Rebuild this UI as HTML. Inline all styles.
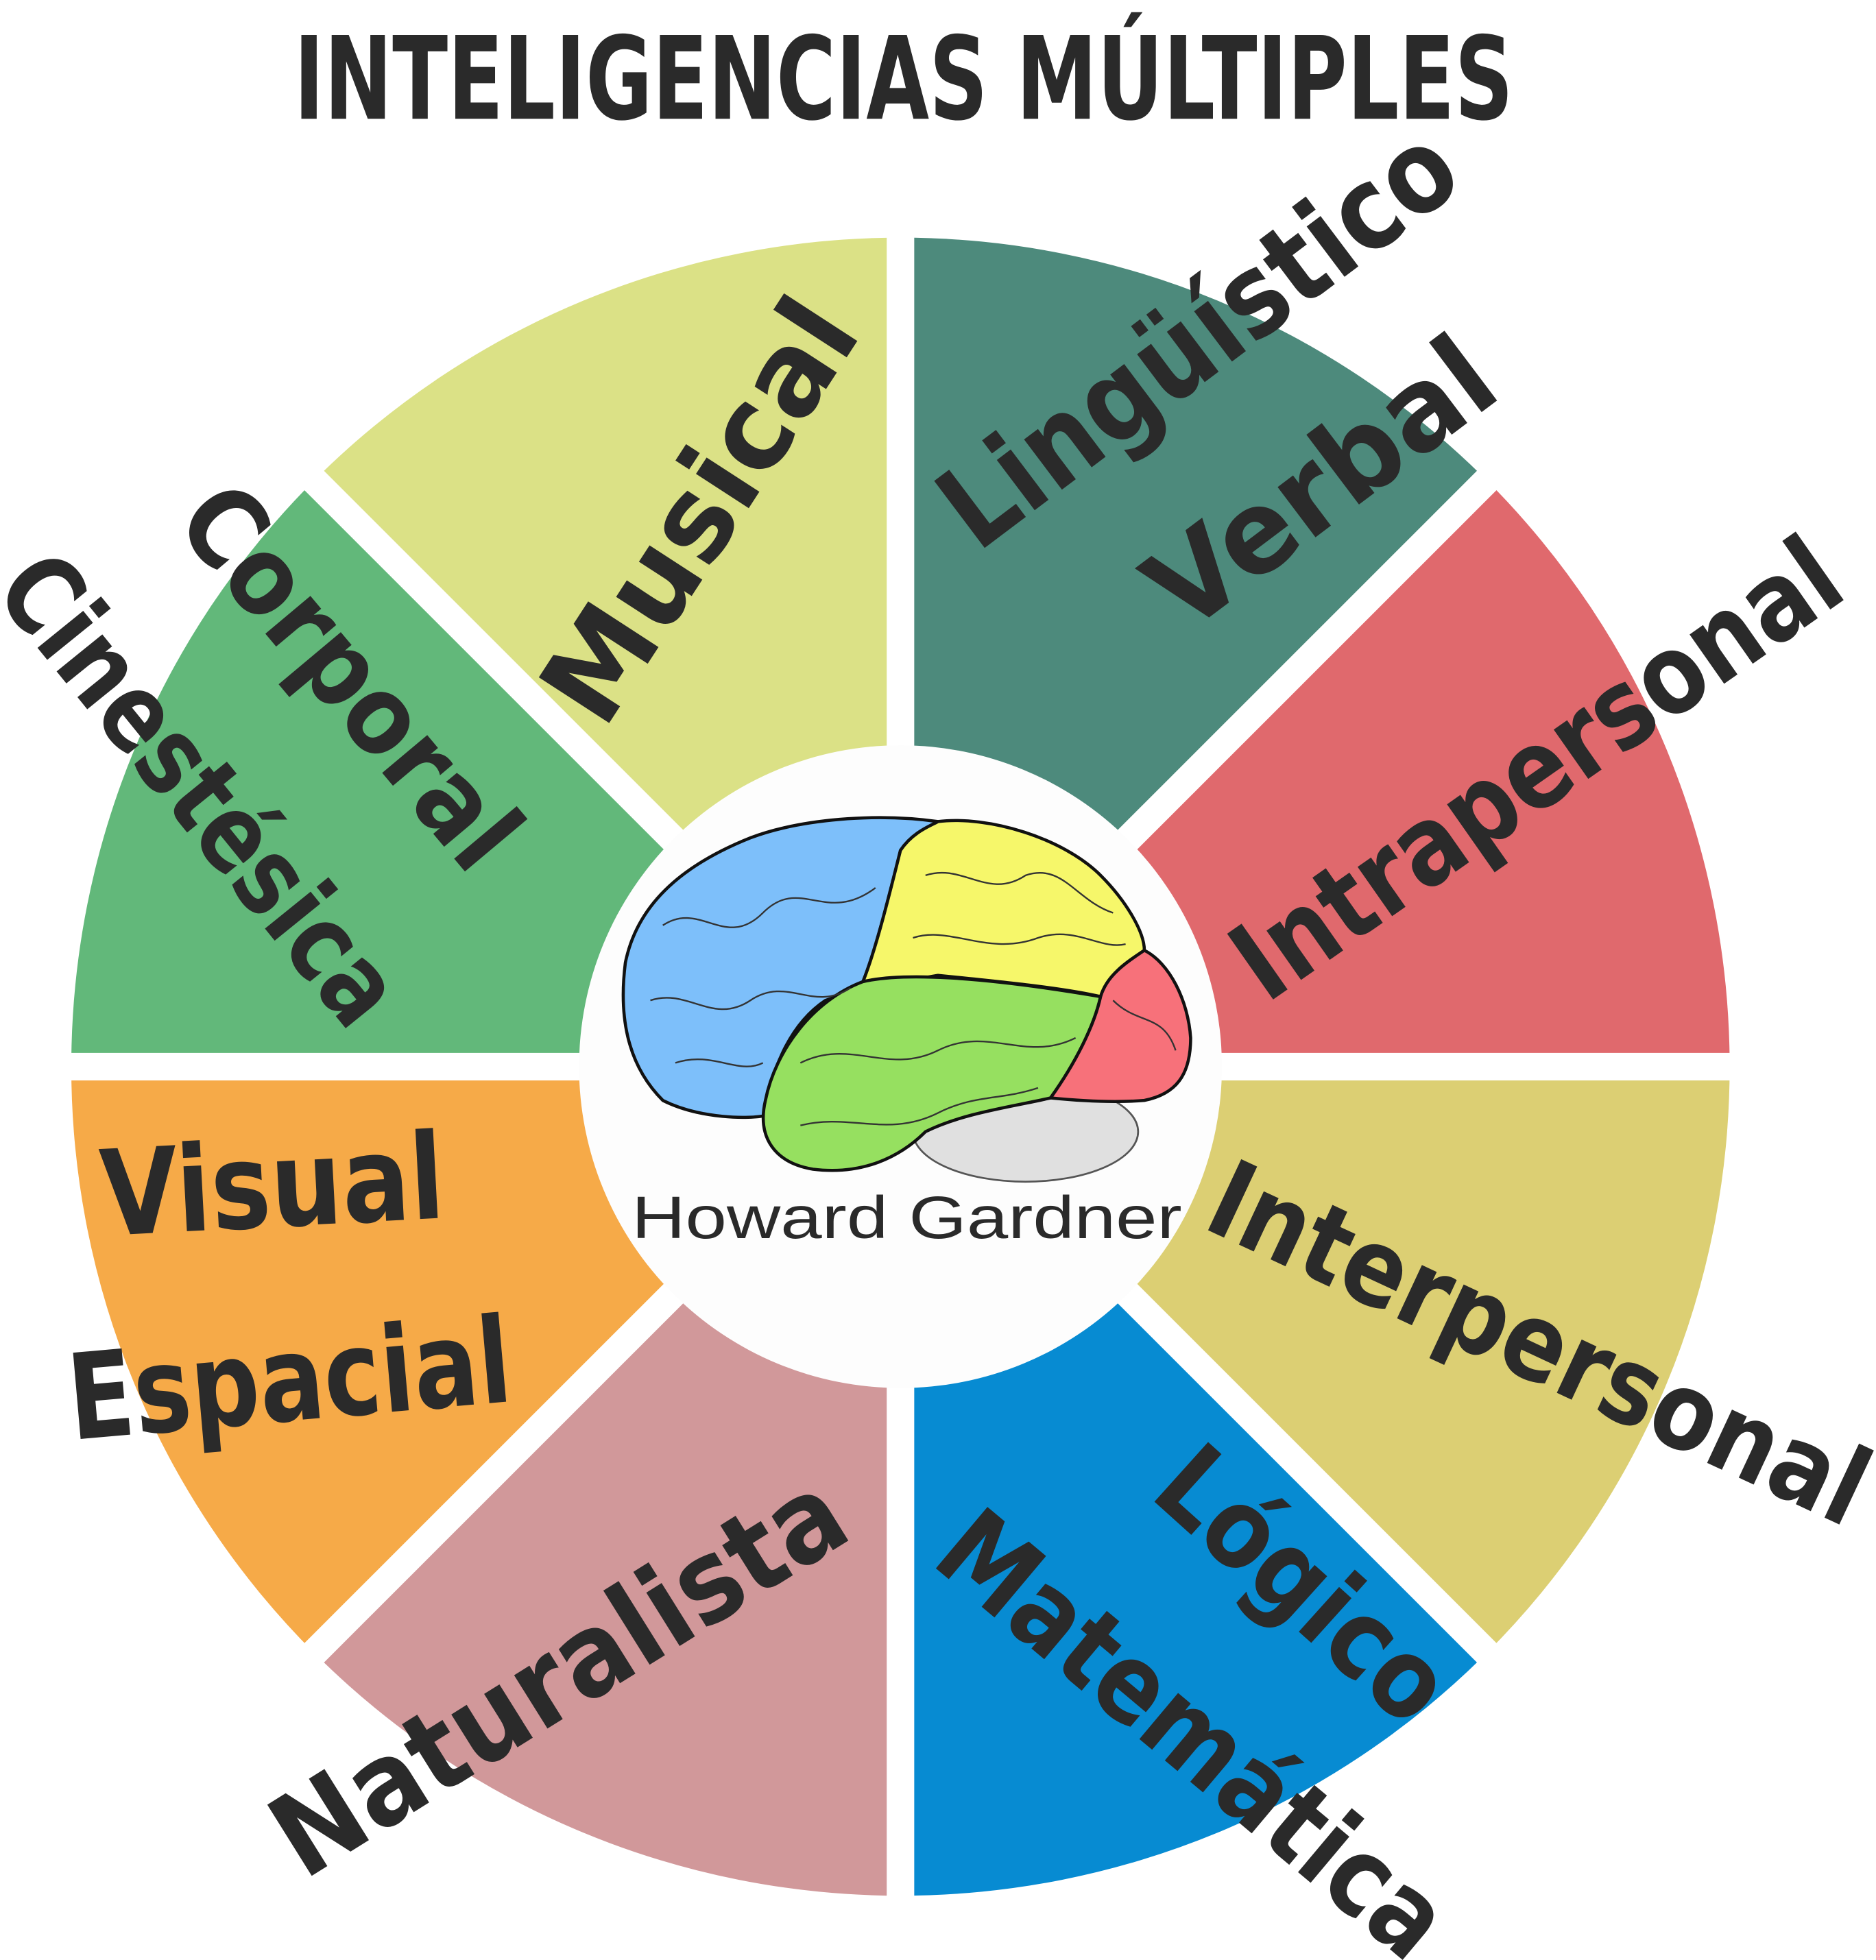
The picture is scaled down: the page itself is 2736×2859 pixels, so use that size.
<!DOCTYPE html>
<html><head><meta charset="utf-8"><style>
html,body{margin:0;padding:0;background:#fff;}
svg{display:block;}
text{font-family:"DejaVu Sans","Liberation Sans",sans-serif;font-weight:bold;fill:#2a2a2a;}
</style></head><body>
<svg width="2736" height="2859" viewBox="0 0 1500 1567.4" xmlns="http://www.w3.org/2000/svg">
<rect width="1500" height="1567.4" fill="#fff"/>
<g transform="translate(720,853)">
<path d="M0,0 L0,-663 A663,663 0 0 1 468.8,-468.8 Z" fill="#4d8a7c"/>
<path d="M0,0 L468.8,-468.8 A663,663 0 0 1 663,0 Z" fill="#e0696d"/>
<path d="M0,0 L663,0 A663,663 0 0 1 468.8,468.8 Z" fill="#dccf73"/>
<path d="M0,0 L468.8,468.8 A663,663 0 0 1 0,663 Z" fill="#078bd2"/>
<path d="M0,0 L0,663 A663,663 0 0 1 -468.8,468.8 Z" fill="#d1989a"/>
<path d="M0,0 L-468.8,468.8 A663,663 0 0 1 -663,0 Z" fill="#f6aa48"/>
<path d="M0,0 L-663,0 A663,663 0 0 1 -468.8,-468.8 Z" fill="#62b87a"/>
<path d="M0,0 L-468.8,-468.8 A663,663 0 0 1 0,-663 Z" fill="#dbe186"/>
<g stroke="#ffffff" stroke-width="22">
<line x1="0" y1="-700" x2="0" y2="700"/>
<line x1="-700" y1="0" x2="700" y2="0"/>
<line x1="-500" y1="-500" x2="500" y2="500"/>
<line x1="-500" y1="500" x2="500" y2="-500"/>
</g>
<circle r="257" fill="#fdfdfd"/>
</g>
<text x="235" y="95" font-size="92" textLength="975" lengthAdjust="spacingAndGlyphs">INTELIGENCIAS MÚLTIPLES</text>
<text transform="translate(565,412) rotate(-57)" font-size="92" text-anchor="middle" dominant-baseline="middle" textLength="380" lengthAdjust="spacingAndGlyphs">Musical</text>
<text transform="translate(962,275) rotate(-37)" font-size="92" text-anchor="middle" dominant-baseline="middle" textLength="490" lengthAdjust="spacingAndGlyphs">Lingüístico</text>
<text transform="translate(1060,392) rotate(-37)" font-size="92" text-anchor="middle" dominant-baseline="middle" textLength="320" lengthAdjust="spacingAndGlyphs">Verbal</text>
<text transform="translate(1232,620) rotate(-35)" font-size="88" text-anchor="middle" dominant-baseline="middle" textLength="570" lengthAdjust="spacingAndGlyphs">Intrapersonal</text>
<text transform="translate(1228,1080) rotate(25)" font-size="86" text-anchor="middle" dominant-baseline="middle" textLength="570" lengthAdjust="spacingAndGlyphs">Interpersonal</text>
<text transform="translate(1038,1272) rotate(42)" font-size="88" text-anchor="middle" dominant-baseline="middle" textLength="280" lengthAdjust="spacingAndGlyphs">Lógico</text>
<text transform="translate(950,1392) rotate(40)" font-size="88" text-anchor="middle" dominant-baseline="middle" textLength="500" lengthAdjust="spacingAndGlyphs">Matemática</text>
<text transform="translate(450,1345) rotate(-32)" font-size="92" text-anchor="middle" dominant-baseline="middle" textLength="520" lengthAdjust="spacingAndGlyphs">Naturalista</text>
<text transform="translate(218,955) rotate(-3)" font-size="95" text-anchor="middle" dominant-baseline="middle" textLength="275" lengthAdjust="spacingAndGlyphs">Visual</text>
<text transform="translate(232,1110) rotate(-5)" font-size="95" text-anchor="middle" dominant-baseline="middle" textLength="355" lengthAdjust="spacingAndGlyphs">Espacial</text>
<text transform="translate(275,545) rotate(50)" font-size="86" text-anchor="middle" dominant-baseline="middle" textLength="370" lengthAdjust="spacingAndGlyphs">Corporal</text>
<text transform="translate(155,635) rotate(51)" font-size="86" text-anchor="middle" dominant-baseline="middle" textLength="455" lengthAdjust="spacingAndGlyphs">Cinestésica</text>
<g stroke="#111" stroke-width="2.5" stroke-linejoin="round">
<ellipse cx="820" cy="905" rx="90" ry="40" fill="#e0e0e0" stroke="#555" stroke-width="1.5"/>
<path d="M750,657 C700,650 640,655 600,670 C550,690 510,720 500,770 C495,810 500,850 530,880 C560,895 600,895 612,892 C615,860 630,820 660,800 C690,790 700,790 690,785 C700,760 710,720 720,680 C730,665 745,660 750,657 Z" fill="#7dbffa"/>
<path d="M750,657 C790,652 850,670 880,700 C900,720 915,745 915,760 C900,770 885,780 880,797 C850,790 800,785 750,780 C720,785 700,790 690,785 C700,760 710,720 720,680 C730,665 745,660 750,657 Z" fill="#f6f76a"/>
<path d="M690,785 C720,778 780,780 880,797 C875,820 860,850 840,878 C810,885 770,890 740,905 C720,925 690,940 650,935 C620,930 605,910 612,880 C620,840 650,800 690,785 Z" fill="#96e060"/>
<path d="M915,760 C935,770 950,800 952,830 C952,860 940,875 915,880 C890,882 860,880 840,878 C860,850 875,820 880,797 C885,780 900,770 915,760 Z" fill="#f7717a"/>
</g>
<g fill="none" stroke="#333" stroke-width="1.3">
<path d="M530,740 C560,720 580,760 610,730 C640,700 660,740 700,710"/>
<path d="M520,800 C550,790 570,820 600,800 C630,780 650,810 680,790"/>
<path d="M540,850 C570,840 590,860 610,850"/>
<path d="M740,700 C770,690 790,720 820,700 C850,690 860,720 890,730"/>
<path d="M730,750 C760,740 790,765 830,750 C860,740 880,760 900,755"/>
<path d="M640,850 C680,830 710,860 750,840 C790,820 820,850 860,830"/>
<path d="M640,900 C680,890 710,910 750,890 C780,875 800,880 830,870"/>
<path d="M890,800 C910,820 930,810 940,840"/>
</g>
<text x="505" y="990" font-size="48" style="font-weight:normal;font-family:'Liberation Sans',sans-serif" fill="#222" textLength="440" lengthAdjust="spacingAndGlyphs">Howard Gardner</text>
</svg>
</body></html>
